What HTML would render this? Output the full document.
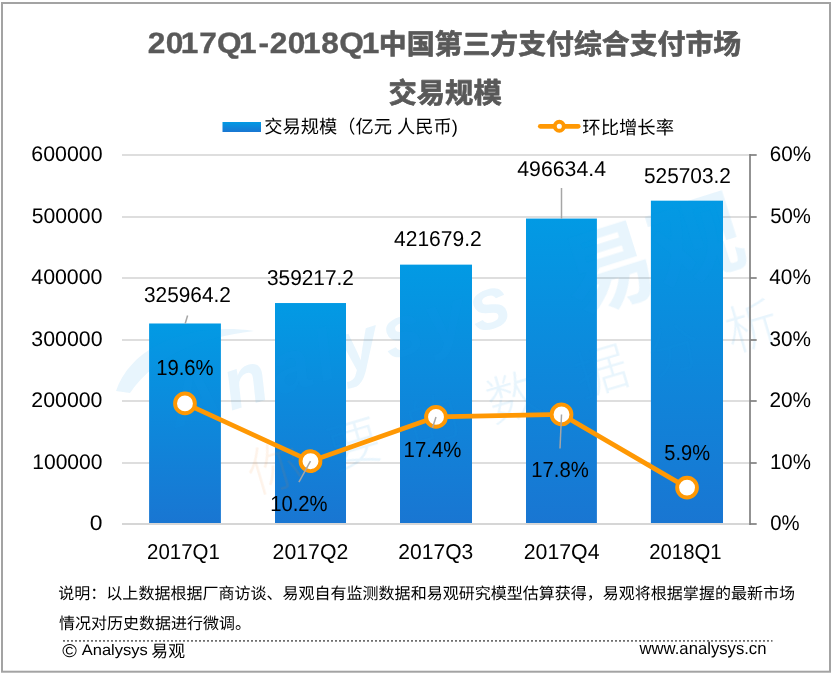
<!DOCTYPE html>
<html lang="zh-CN">
<head>
<meta charset="utf-8">
<title>2017Q1-2018Q1中国第三方支付综合支付市场交易规模</title>
<style>html,body{margin:0;padding:0;background:#fff;overflow:hidden}svg{display:block}</style>
</head>
<body>
<svg width="833" height="674" viewBox="0 0 833 674" style="display:block" text-rendering="geometricPrecision">
<defs><linearGradient id="bg" x1="0" y1="0" x2="0" y2="1"><stop offset="0" stop-color="#029ae4"/><stop offset="1" stop-color="#1976d2"/></linearGradient><linearGradient id="lg" x1="0" y1="0" x2="0" y2="1"><stop offset="0" stop-color="#029ae4"/><stop offset="1" stop-color="#1976d2"/></linearGradient></defs>
<rect x="0" y="0" width="833" height="674" fill="#fff"/>
<rect x="2" y="3" width="828" height="668.7" fill="none" stroke="#a3a3a3" stroke-width="2"/>
<line x1="122" y1="155" x2="750" y2="155" stroke="#dedede" stroke-width="2"/>
<line x1="122" y1="217" x2="750" y2="217" stroke="#dedede" stroke-width="2"/>
<line x1="122" y1="278" x2="750" y2="278" stroke="#dedede" stroke-width="2"/>
<line x1="122" y1="340" x2="750" y2="340" stroke="#dedede" stroke-width="2"/>
<line x1="122" y1="401" x2="750" y2="401" stroke="#dedede" stroke-width="2"/>
<line x1="122" y1="463" x2="750" y2="463" stroke="#dedede" stroke-width="2"/>
<rect x="149.1" y="323.49" width="71.8" height="199.51" fill="url(#bg)"/>
<rect x="275" y="303.04" width="71.0" height="219.96" fill="url(#bg)"/>
<rect x="400" y="264.64" width="72.0" height="258.36" fill="url(#bg)"/>
<rect x="526" y="218.55" width="70.9" height="304.45" fill="url(#bg)"/>
<rect x="650.9" y="200.68" width="72.1" height="322.32" fill="url(#bg)"/>
<g opacity="0.10" fill="#1a9ae6" font-family='"Liberation Sans", "Noto Sans CJK SC", sans-serif'><path d="M116,391 C132,345 190,322 254,331 C196,338 156,356 130,393 Z"/><text transform="translate(176 428) rotate(-17.5)" font-size="72" letter-spacing="5.6" font-weight="bold" font-style="italic">Analysys</text><text transform="translate(574.6 314.2) rotate(-17.5)" font-size="92" font-weight="bold">易观</text><text transform="translate(256.2 493.3) rotate(-16.5)" font-size="53" font-weight="300" x="-2 81 164 247 339 415 496"><tspan fill="#f58220">你</tspan>要的数据分析</text></g>
<line x1="122" y1="524" x2="750" y2="524" stroke="#d6d6d6" stroke-width="2"/>
<line x1="750" y1="154" x2="750" y2="525" stroke="#808080" stroke-width="1.7"/>
<line x1="750" y1="155" x2="756.7" y2="155" stroke="#808080" stroke-width="1.7"/>
<line x1="750" y1="217" x2="756.7" y2="217" stroke="#808080" stroke-width="1.7"/>
<line x1="750" y1="278" x2="756.7" y2="278" stroke="#808080" stroke-width="1.7"/>
<line x1="750" y1="340" x2="756.7" y2="340" stroke="#808080" stroke-width="1.7"/>
<line x1="750" y1="401" x2="756.7" y2="401" stroke="#808080" stroke-width="1.7"/>
<line x1="750" y1="463" x2="756.7" y2="463" stroke="#808080" stroke-width="1.7"/>
<line x1="750" y1="524" x2="756.7" y2="524" stroke="#808080" stroke-width="1.7"/>
<line x1="185.2" y1="323.5" x2="187.6" y2="315.5" stroke="#a6a6a6" stroke-width="1.5"/>
<line x1="561.5" y1="188" x2="561.5" y2="218.7" stroke="#a6a6a6" stroke-width="1.5"/>
<polyline points="184.96,403.39 310.48,461.19 436.00,416.92 561.52,414.46 687.04,487.62" fill="none" stroke="#ff9803" stroke-width="4.75" stroke-linejoin="round" stroke-linecap="round"/>
<circle cx="184.96" cy="403.39" r="9.9" fill="#fff" stroke="#ff9803" stroke-width="3.9"/>
<circle cx="310.48" cy="461.19" r="9.9" fill="#fff" stroke="#ff9803" stroke-width="3.9"/>
<circle cx="436.00" cy="416.92" r="9.9" fill="#fff" stroke="#ff9803" stroke-width="3.9"/>
<circle cx="561.52" cy="414.46" r="9.9" fill="#fff" stroke="#ff9803" stroke-width="3.9"/>
<circle cx="687.04" cy="487.62" r="9.9" fill="#fff" stroke="#ff9803" stroke-width="3.9"/>
<line x1="310.48" y1="461.19" x2="298.9" y2="482.2" stroke="#a6a6a6" stroke-width="1.5"/>
<line x1="436.00" y1="416.92" x2="432.5" y2="427.8" stroke="#a6a6a6" stroke-width="1.5"/>
<line x1="561.52" y1="414.46" x2="560.0" y2="448.5" stroke="#a6a6a6" stroke-width="1.5"/>
<rect x="222.5" y="122" width="38.5" height="10" fill="url(#lg)"/>
<line x1="540.3" y1="126.3" x2="578.2" y2="126.3" stroke="#ff9803" stroke-width="4.75" stroke-linecap="round"/>
<circle cx="559.3" cy="126.3" r="4.5" fill="#fff" stroke="#ff9803" stroke-width="3.9"/>
<line x1="63" y1="640.9" x2="772.5" y2="640.9" stroke="#6e6e6e" stroke-width="1.7" stroke-dasharray="2 2"/>
<text x="130.75 146.67 159.95 176.23 192.13 211.59 228.77 238.62 254.68 268.09 284.20 300.18 320.22" transform="translate(0.00 52.81) scale(1.1300 1.0550)" font-family='"Liberation Sans", sans-serif' font-size="28" font-weight="bold" fill="#595959" stroke="#595959" stroke-width="0.35" stroke-linejoin="round" xml:space="preserve">2017Q1-2018Q1</text>
<text transform="translate(378.79 54.25) scale(0.9955 0.9955)" font-family='"Liberation Sans", "Noto Sans CJK SC", sans-serif' font-size="28" font-weight="bold" fill="#595959" stroke="#595959" stroke-width="0.7" stroke-linejoin="round" xml:space="preserve">中国第三方支付综合支付市场</text>
<text transform="translate(388.52 103.01) scale(1.0103 1.0103)" font-family='"Liberation Sans", "Noto Sans CJK SC", sans-serif' font-size="28" font-weight="bold" fill="#595959" stroke="#595959" stroke-width="0.7" stroke-linejoin="round" xml:space="preserve">交易规模</text>
<text transform="translate(264.26 133.05) scale(1.0137 1.0137)" font-family='"Liberation Sans", "Noto Sans CJK SC", sans-serif' font-size="18" font-weight="normal" fill="#000" xml:space="preserve">交易规模（亿元 人民币)</text>
<text transform="translate(582.28 133.75) scale(1.0196 1.0196)" font-family='"Liberation Sans", "Noto Sans CJK SC", sans-serif' font-size="18" font-weight="normal" fill="#000" xml:space="preserve">环比增长率</text>
<text transform="translate(31.37 161.05) scale(1.0670 1.0636)" font-family='"Liberation Sans", sans-serif' font-size="20" font-weight="normal" fill="#000" xml:space="preserve">600000</text>
<text transform="translate(31.70 222.86) scale(1.0596 1.0537)" font-family='"Liberation Sans", sans-serif' font-size="20" font-weight="normal" fill="#000" xml:space="preserve">500000</text>
<text transform="translate(31.29 284.24) scale(1.0659 1.0552)" font-family='"Liberation Sans", sans-serif' font-size="20" font-weight="normal" fill="#000" xml:space="preserve">400000</text>
<text transform="translate(31.34 345.94) scale(1.0667 1.0589)" font-family='"Liberation Sans", sans-serif' font-size="20" font-weight="normal" fill="#000" xml:space="preserve">300000</text>
<text transform="translate(31.35 406.95) scale(1.0649 1.0572)" font-family='"Liberation Sans", sans-serif' font-size="20" font-weight="normal" fill="#000" xml:space="preserve">200000</text>
<text transform="translate(32.27 468.94) scale(1.0519 1.0555)" font-family='"Liberation Sans", sans-serif' font-size="20" font-weight="normal" fill="#000" xml:space="preserve">100000</text>
<text transform="translate(89.76 529.86) scale(1.1431 1.0578)" font-family='"Liberation Sans", sans-serif' font-size="20" font-weight="normal" fill="#000" xml:space="preserve">0</text>
<text transform="translate(769.72 161.20) scale(1.0298 1.0571)" font-family='"Liberation Sans", sans-serif' font-size="20" font-weight="normal" fill="#000" xml:space="preserve">60%</text>
<text transform="translate(770.25 223.18) scale(1.0166 1.0562)" font-family='"Liberation Sans", sans-serif' font-size="20" font-weight="normal" fill="#000" xml:space="preserve">50%</text>
<text transform="translate(769.29 284.20) scale(1.0385 1.0625)" font-family='"Liberation Sans", sans-serif' font-size="20" font-weight="normal" fill="#000" xml:space="preserve">40%</text>
<text transform="translate(769.50 346.24) scale(1.0379 1.0543)" font-family='"Liberation Sans", sans-serif' font-size="20" font-weight="normal" fill="#000" xml:space="preserve">30%</text>
<text transform="translate(769.42 407.25) scale(1.0398 1.0543)" font-family='"Liberation Sans", sans-serif' font-size="20" font-weight="normal" fill="#000" xml:space="preserve">20%</text>
<text transform="translate(769.97 469.28) scale(1.0236 1.0641)" font-family='"Liberation Sans", sans-serif' font-size="20" font-weight="normal" fill="#000" xml:space="preserve">10%</text>
<text transform="translate(770.14 530.23) scale(1.0156 1.0552)" font-family='"Liberation Sans", sans-serif' font-size="20" font-weight="normal" fill="#000" xml:space="preserve">0%</text>
<text transform="translate(147.10 558.76) scale(1.0226 1.0774)" font-family='"Liberation Sans", sans-serif' font-size="20" font-weight="normal" fill="#000" xml:space="preserve">2017Q1</text>
<text transform="translate(272.62 559.00) scale(1.0624 1.0777)" font-family='"Liberation Sans", sans-serif' font-size="20" font-weight="normal" fill="#000" xml:space="preserve">2017Q2</text>
<text transform="translate(398.34 559.21) scale(1.0528 1.0662)" font-family='"Liberation Sans", sans-serif' font-size="20" font-weight="normal" fill="#000" xml:space="preserve">2017Q3</text>
<text transform="translate(523.73 558.60) scale(1.0645 1.0715)" font-family='"Liberation Sans", sans-serif' font-size="20" font-weight="normal" fill="#000" xml:space="preserve">2017Q4</text>
<text transform="translate(649.32 558.51) scale(1.0137 1.0725)" font-family='"Liberation Sans", sans-serif' font-size="20" font-weight="normal" fill="#000" xml:space="preserve">2018Q1</text>
<text transform="translate(143.96 302.00) scale(1.0429 1.0714)" font-family='"Liberation Sans", sans-serif' font-size="20" font-weight="normal" fill="#000" xml:space="preserve">325964.2</text>
<text transform="translate(266.96 285.00) scale(1.0417 1.0714)" font-family='"Liberation Sans", sans-serif' font-size="20" font-weight="normal" fill="#000" xml:space="preserve">359217.2</text>
<text transform="translate(394.08 245.90) scale(1.0500 1.0714)" font-family='"Liberation Sans", sans-serif' font-size="20" font-weight="normal" fill="#000" xml:space="preserve">421679.2</text>
<text transform="translate(517.29 176.12) scale(1.0631 1.0656)" font-family='"Liberation Sans", sans-serif' font-size="20" font-weight="normal" fill="#000" xml:space="preserve">496634.4</text>
<text transform="translate(643.96 183.00) scale(1.0429 1.0714)" font-family='"Liberation Sans", sans-serif' font-size="20" font-weight="normal" fill="#000" xml:space="preserve">525703.2</text>
<text transform="translate(156.13 375.09) scale(1.0137 1.0869)" font-family='"Liberation Sans", sans-serif' font-size="20" font-weight="normal" fill="#000" xml:space="preserve">19.6%</text>
<text transform="translate(270.18 511.05) scale(1.0128 1.0929)" font-family='"Liberation Sans", sans-serif' font-size="20" font-weight="normal" fill="#000" xml:space="preserve">10.2%</text>
<text transform="translate(403.57 457.05) scale(1.0183 1.0929)" font-family='"Liberation Sans", sans-serif' font-size="20" font-weight="normal" fill="#000" xml:space="preserve">17.4%</text>
<text transform="translate(531.18 477.05) scale(1.0147 1.0929)" font-family='"Liberation Sans", sans-serif' font-size="20" font-weight="normal" fill="#000" xml:space="preserve">17.8%</text>
<text transform="translate(664.36 460.37) scale(1.0032 1.0822)" font-family='"Liberation Sans", sans-serif' font-size="20" font-weight="normal" fill="#000" xml:space="preserve">5.9%</text>
<text transform="translate(58.31 599.35) scale(1.0009 1.0009)" font-family='"Liberation Sans", "Noto Sans CJK SC", sans-serif' font-size="16" font-weight="normal" fill="#000" xml:space="preserve">说明：以上数据根据厂商访谈、易观自有监测数据和易观研究模型估算获得，易观将根据掌握的最新市场</text>
<text transform="translate(59.10 629.10) scale(0.9999 0.9999)" font-family='"Liberation Sans", "Noto Sans CJK SC", sans-serif' font-size="16" font-weight="normal" fill="#000" xml:space="preserve">情况对历史数据进行微调。</text>
<text transform="translate(62.24 656.57) scale(1.2391 1.1579)" font-family='"Liberation Sans", sans-serif' font-size="16" font-weight="normal" fill="#000" xml:space="preserve">© </text>
<text transform="translate(81.68 655.10) scale(1.0321 0.9583)" font-family='"Liberation Sans", sans-serif' font-size="16" font-weight="normal" fill="#000" xml:space="preserve">Analysys </text>
<text transform="translate(151.36 656.87) scale(1.0484 1.0484)" font-family='"Liberation Sans", "Noto Sans CJK SC", sans-serif' font-size="16" font-weight="normal" fill="#000" xml:space="preserve">易观</text>
<text transform="translate(639.54 654.00) scale(1.0418 1.0588)" font-family='"Liberation Sans", sans-serif' font-size="16" font-weight="normal" fill="#000" xml:space="preserve">www.analysys.cn</text>
</svg>
</body>
</html>
